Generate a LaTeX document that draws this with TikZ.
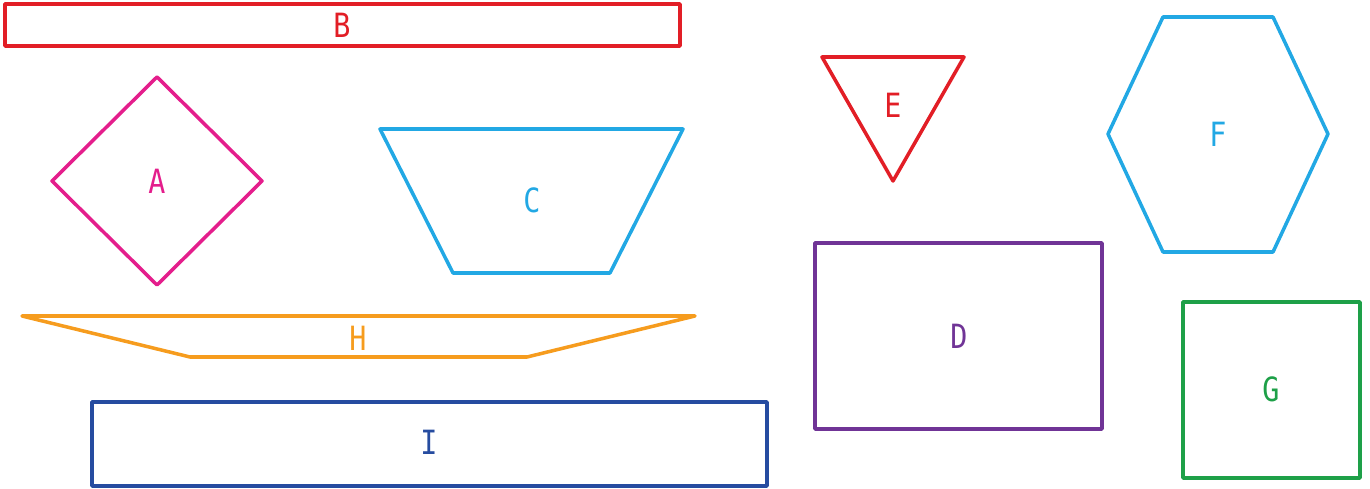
\documentclass[tikz,border=0pt]{standalone}
\usepackage{fontspec}
\setmonofont{DejaVu Sans Mono}
\usepackage{tikz}
\usetikzlibrary{positioning}
\definecolor{cr}{RGB}{226,30,38}
\definecolor{cp}{RGB}{228,30,140}
\definecolor{cb}{RGB}{34,168,228}
\definecolor{co}{RGB}{246,156,30}
\definecolor{cn}{RGB}{38,76,160}
\definecolor{cv}{RGB}{112,52,150}
\definecolor{cg}{RGB}{30,160,72}

\begin{document}
\begin{tikzpicture}[
    x=0.02cm,y=-0.02cm,
    shp/.style={line width=2pt,line join=round},
    lbl/.style={font=\ttfamily\fontsize{19}{22}\selectfont,inner sep=0pt,xscale=0.85},
]
\useasboundingbox (0,0) rectangle (1370,489);
% left group
\draw[shp,cr] (5,4) rectangle (680,46);
\node[lbl,text=cr] (b) at (342,25) {B};
\draw[shp,cp] (157,77) -- (262,181) -- (157,285) -- (52,181) -- cycle;
\node[lbl,text=cp] (a) at (157,181) {A};
\draw[shp,cb] (380,129) -- (683,129) -- (610,273) -- (453,273) -- cycle;
\node[lbl,text=cb] (c) at (532,200) {C};
\draw[shp,co] (22,316) -- (695,316) -- (527,357) -- (190,357) -- cycle;
\node[lbl,text=co] (h) at (358,338) {H};
\draw[shp,cn] (92,402) rectangle (767,486);
\node[lbl,text=cn] (i) at (429,442) {I};
% right group
\draw[shp,cr] (822,57) -- (964,57) -- (893,181) -- cycle;
\node[lbl,text=cr] (e) at (893,105) {E};
\draw[shp,cb] (1108,134) -- (1163,17) -- (1273,17) -- (1328,134) -- (1273,252) -- (1163,252) -- cycle;
\node[lbl,text=cb] (f) at (1218,134) {F};
\draw[shp,cv] (815,243) rectangle (1102,429);
\node[lbl,text=cv] (d) at (959,336) {D};
\draw[shp,cg] (1183,302) rectangle (1360,478);
\node[lbl,text=cg] (g) at (1271,389) {G};
\end{tikzpicture}
\end{document}
